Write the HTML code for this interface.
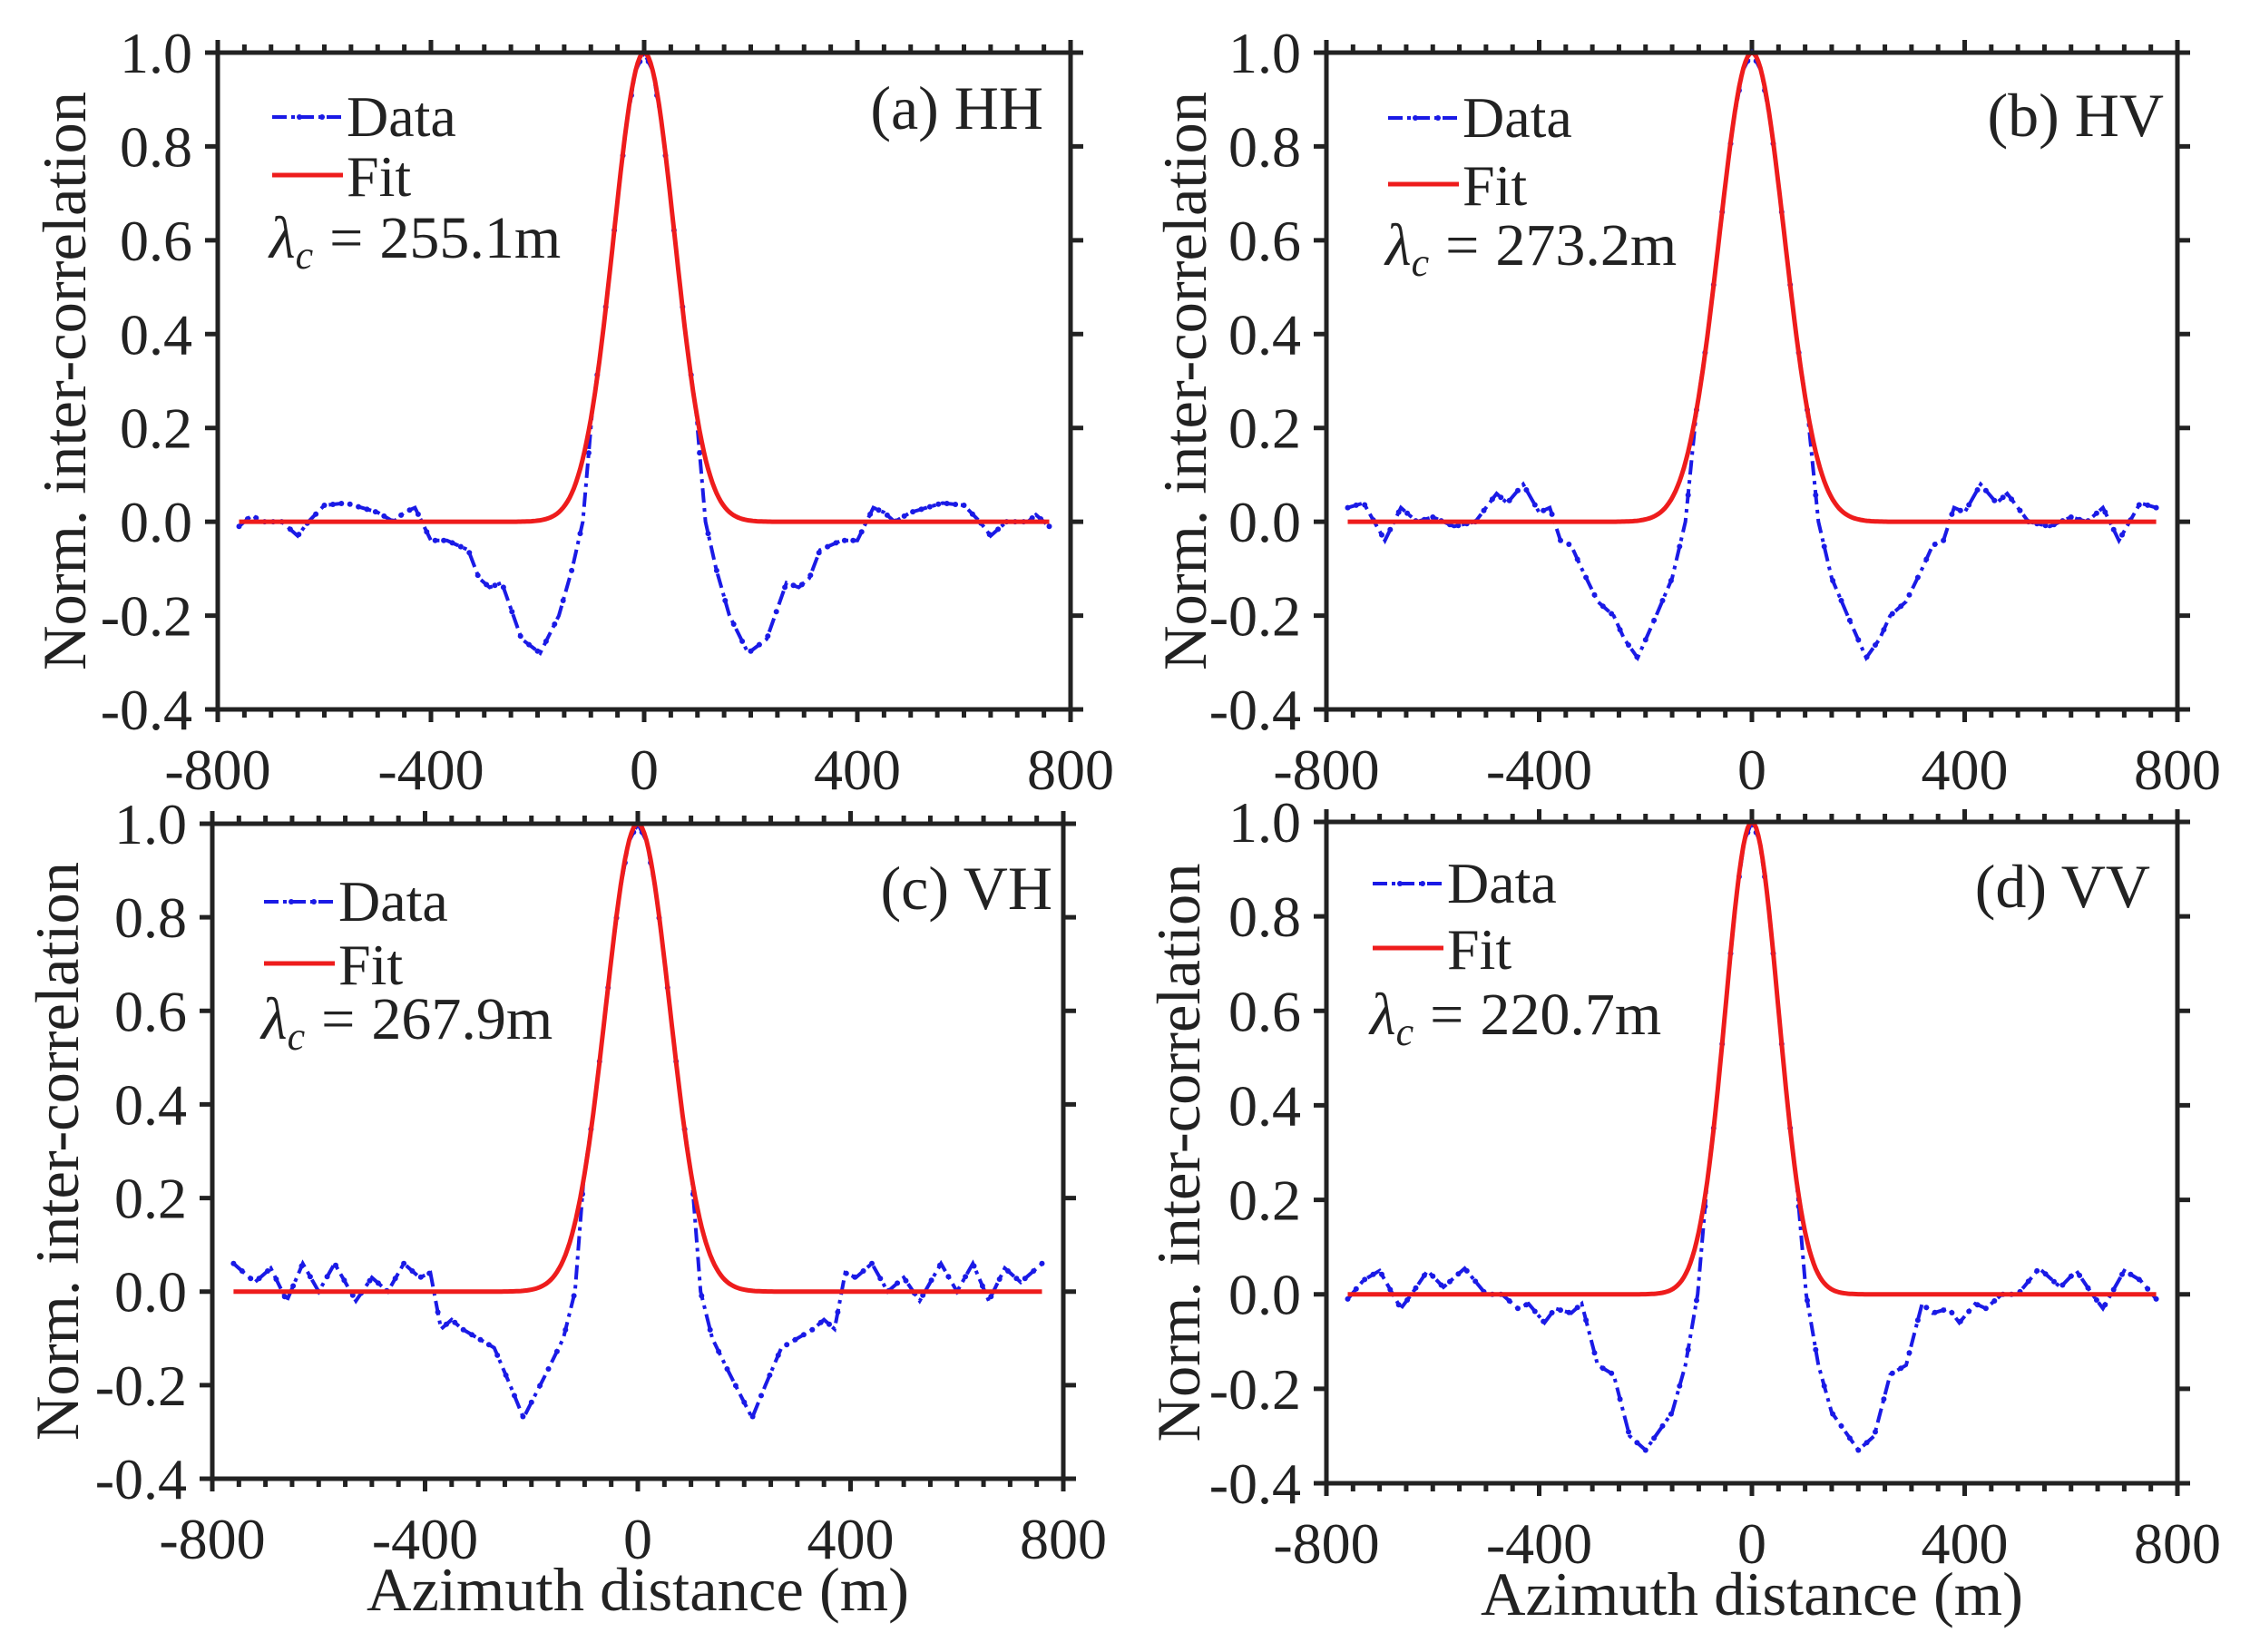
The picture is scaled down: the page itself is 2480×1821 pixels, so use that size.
<!DOCTYPE html>
<html><head><meta charset="utf-8"><style>
html,body{margin:0;padding:0;background:#fff}
svg{display:block}
text{font-family:"Liberation Serif",serif;fill:#222}
</style></head><body>
<svg id="s" xmlns="http://www.w3.org/2000/svg" width="2480" height="1821" viewBox="0 0 2480 1821"></svg>
<script>
const S=document.getElementById('s');let out='';
const panels=[
 {L:240,R:1180,T:58,B:782,lam:255.1,t:'(a) HH',tx:1150,ty:142,lx:300,dy:129,fy:193,ly:284,ylx:72,xl:false,
  pts:[[115,0],[135,-0.1],[160,-0.2],[195,-0.28],[230,-0.25],[267,-0.13],[290,-0.14],[310,-0.12],[330,-0.06],[370,-0.04],[400,-0.04],[430,0.03],[450,0.02],[470,0.0],[500,0.02],[530,0.03],[560,0.04],[600,0.035],[630,0.0],[650,-0.03],[680,0],[720,0],[735,0.015],[760,-0.01]]},
 {L:1462,R:2400,T:58,B:782,lam:273.2,t:'(b) HV',tx:2385,ty:150,lx:1530,dy:130,fy:203,ly:292,ylx:1307,xl:false,
  pts:[[125,0],[150,-0.12],[180,-0.2],[215,-0.29],[240,-0.25],[260,-0.2],[290,-0.17],[320,-0.1],[340,-0.05],[360,-0.04],[380,0.03],[400,0.02],[430,0.08],[460,0.04],[480,0.06],[520,0.0],[560,-0.01],[600,0.01],[630,0],[660,0.03],[690,-0.04],[730,0.04],[760,0.03]]},
 {L:234,R:1172,T:908,B:1630,lam:267.9,t:'(c) VH',tx:1160,ty:1002,lx:291,dy:994,fy:1062,ly:1145,ylx:64,xl:true,xlx:703,xly:1775,
  pts:[[118,0],[140,-0.1],[170,-0.17],[215,-0.27],[240,-0.2],[270,-0.12],[300,-0.1],[330,-0.08],[350,-0.06],[370,-0.08],[390,0.04],[410,0.03],[440,0.06],[470,0.0],[500,0.03],[530,-0.02],[570,0.06],[600,0.0],[630,0.06],[660,-0.02],[690,0.05],[720,0.02],[760,0.06]]},
 {L:1462,R:2400,T:906,B:1635,lam:220.7,t:'(d) VV',tx:2370,ty:1000,lx:1513,dy:974,fy:1045,ly:1140,ylx:1300,xl:true,xlx:1931,xly:1780,
  pts:[[102,0],[125,-0.15],[150,-0.25],[200,-0.33],[230,-0.3],[260,-0.17],[290,-0.15],[320,-0.02],[340,-0.04],[370,-0.03],[390,-0.06],[420,-0.02],[440,-0.03],[470,0],[500,0],[540,0.055],[580,0.015],[610,0.05],[640,0.0],[660,-0.03],[700,0.05],[730,0.03],[760,-0.01]]}
];
for(const p of panels){
 const X=v=>p.L+(v+800)/1600*(p.R-p.L), Y=v=>p.B-(v+0.4)/1.4*(p.B-p.T);
 const G=v=>Math.exp(-Math.pow(Math.PI*v/p.lam,2));
 let tk='';
 for(let v=-800;v<=800;v+=50){const x=X(v),mj=v%400==0,l=mj?14:9;
  tk+=`M${x} ${p.B}v${l}M${x} ${p.T}v-${l}`;}
 for(let i=0;i<=7;i++){const v=-0.4+i*0.2,y=Y(v);tk+=`M${p.L} ${y}h-14M${p.R} ${y}h14`;}
 out+=`<path d="${tk}" stroke="#222" stroke-width="5" fill="none"/>`;
 for(let i=0;i<=7;i++){const v=-0.4+i*0.2;out+=`<text x="${p.L-28}" y="${Y(v)+22}" font-size="64" text-anchor="end">${v<-0.01?'-'+Math.abs(v).toFixed(1):v.toFixed(1)}</text>`;}
 for(const v of [-800,-400,0,400,800])out+=`<text x="${X(v)}" y="${p.B+88}" font-size="64" text-anchor="middle">${v}</text>`;
 let f='';for(let v=-760;v<=760;v+=4){f+=(f?'L':'M')+X(v).toFixed(1)+' '+Y(G(v)).toFixed(1);}
 // data peak follows gaussian until ~0.22
 const x0=p.pts[0][0];const xs=p.lam*Math.sqrt(-Math.log(0.24))/Math.PI;
 const peak=[];for(let k=0;k<=6;k++){const v=xs*k/6;peak.push([v,G(v)]);}
 const pts=peak.concat(p.pts);
 const full=[];for(let i=pts.length-1;i>0;i--)full.push([-pts[i][0],pts[i][1]]);for(const q of pts)full.push(q);
 let d='';for(const q of full)d+=(d?'L':'M')+X(q[0]).toFixed(1)+' '+Y(q[1]).toFixed(1);
 let dots='';for(let v=-760;v<=760;v+=16){let i=0;while(i<full.length-2&&full[i+1][0]<v)i++;const a=full[i],b=full[i+1];const t=Math.max(0,Math.min(1,(v-a[0])/(b[0]-a[0])));const y=a[1]+t*(b[1]-a[1]);dots+=`<circle cx="${X(v).toFixed(1)}" cy="${Y(y).toFixed(1)}" r="3"/>`;}
 out+=`<path d="${d}" stroke="#1a1ae6" stroke-width="4" fill="none" stroke-dasharray="16 6 4 6"/><g fill="#1a1ae6">${dots}</g>`;
 out+=`<path d="${f}" stroke="#ee1c1c" stroke-width="5" fill="none"/>`;
 out+=`<rect x="${p.L}" y="${p.T}" width="${p.R-p.L}" height="${p.B-p.T}" fill="none" stroke="#222" stroke-width="5"/>`;
 out+=`<path d="M${p.lx} ${p.dy}h78" stroke="#1a1ae6" stroke-width="4" stroke-dasharray="16 5 4 5"/><g fill="#1a1ae6"><circle cx="${p.lx+30}" cy="${p.dy}" r="3"/><circle cx="${p.lx+55}" cy="${p.dy}" r="3"/></g>`;
 out+=`<text x="${p.lx+82}" y="${p.dy+21}" font-size="64">Data</text>`;
 out+=`<path d="M${p.lx} ${p.fy}h78" stroke="#ee1c1c" stroke-width="5"/><text x="${p.lx+82}" y="${p.fy+23}" font-size="64">Fit</text>`;
 out+=`<text x="${p.lx-3}" y="${p.ly}" font-size="66"><tspan font-style="italic">λ</tspan><tspan font-style="italic" font-size="44" dy="12">c</tspan><tspan dy="-12" dx="18">=</tspan><tspan dx="18">${p.lam}m</tspan></text>`;
 out+=`<text x="${p.tx}" y="${p.ty}" font-size="68" text-anchor="end">${p.t}</text>`;
 const cy=(p.T+p.B)/2;
 out+=`<text transform="translate(${p.ylx+22},${cy}) rotate(-90)" font-size="68" text-anchor="middle" textLength="638" lengthAdjust="spacingAndGlyphs">Norm. inter-correlation</text>`;
 if(p.xl)out+=`<text x="${p.xlx}" y="${p.xly}" font-size="68" text-anchor="middle" textLength="598" lengthAdjust="spacingAndGlyphs">Azimuth distance (m)</text>`;
}
S.innerHTML=out;
</script>
</body></html>
